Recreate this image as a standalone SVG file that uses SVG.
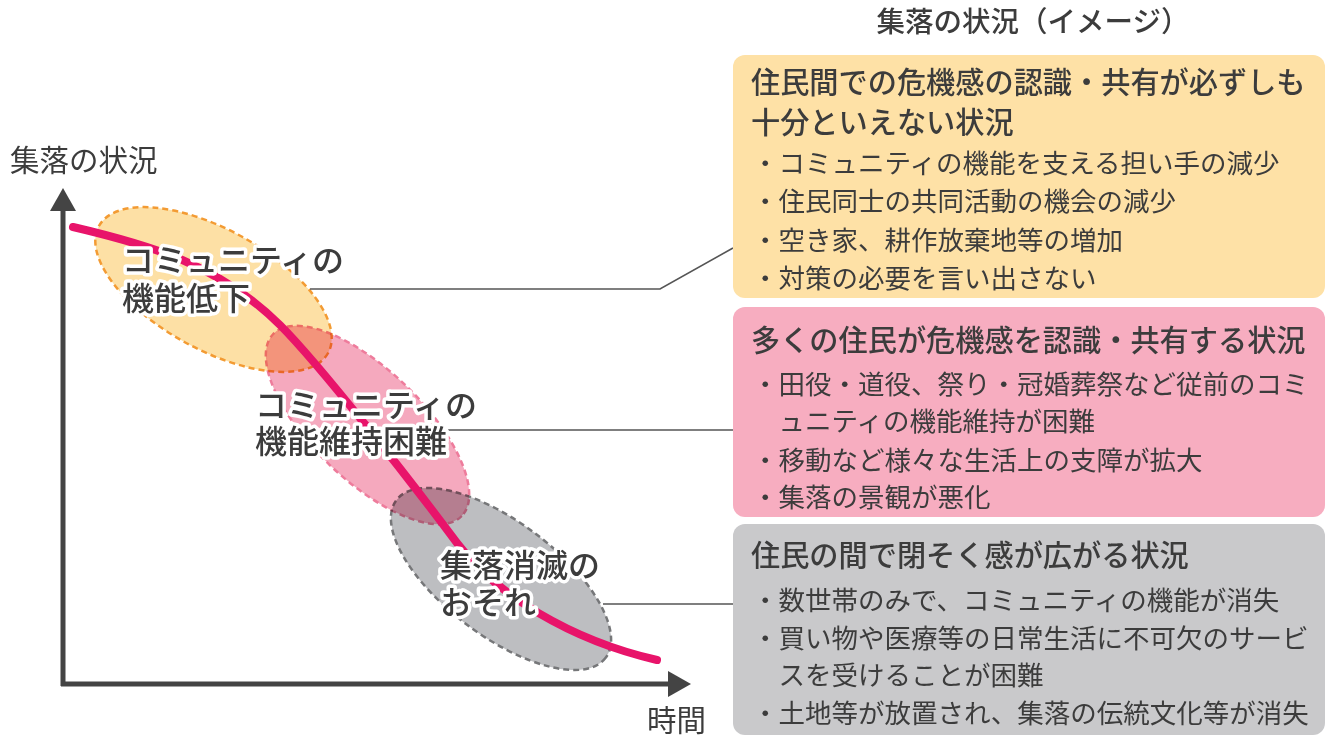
<svg xmlns="http://www.w3.org/2000/svg" width="1326" height="736" viewBox="0 0 1326 736">
<style>
text{font-family:"Noto Sans CJK JP","Noto Sans",sans-serif;fill:#3c3c3c}
.title{font-size:29.2px;font-weight:500}
.item{font-size:26.5px}
.axis{font-size:29.5px}
.lbl{font-size:32px;font-weight:500;stroke:#fff;stroke-width:7px;stroke-linejoin:round;paint-order:stroke}
.ell{stroke-width:2.5;stroke-dasharray:6 4;mix-blend-mode:multiply}
.conn{stroke:#555;stroke-width:1.6;fill:none}
</style>
<rect width="1326" height="736" fill="#fff"/>
<g id="ellipses">
<ellipse id="e1" class="ell" cx="0" cy="0" rx="131" ry="60" transform="translate(213.5,289.5) rotate(29)" fill="#FDE0A5" stroke="#F39B33"/>
<ellipse id="e2" class="ell" cx="0" cy="0" rx="131" ry="55" transform="translate(367.5,425) rotate(44)" fill="#F5A9BE" stroke="#EE7C9C"/>
<ellipse id="e3" class="ell" cx="0" cy="0" rx="131" ry="57" transform="translate(501,579) rotate(37)" fill="#BDBEC1" stroke="#767779"/>
</g>
<g id="connectors">
<polyline class="conn" points="310,289 660,289 733,248"/>
<line class="conn" x1="448" y1="430" x2="733" y2="430"/>
<line class="conn" x1="603" y1="604" x2="733" y2="604"/>
</g>
<g id="axes">
<line x1="63" y1="205" x2="63" y2="686" stroke="#444" stroke-width="5"/>
<polygon points="63,188 50,211 76,211" fill="#444"/>
<line x1="61" y1="684" x2="672" y2="684" stroke="#444" stroke-width="5"/>
<polygon points="691,684 668,671 668,697" fill="#444"/>
<text class="axis" x="10" y="171">集落の状況</text>
<text class="axis" x="647" y="731">時間</text>
</g>
<g id="curve">
<path d="M73,227 C150,245 220,265 280,325 C320,365 410,480 457,543 C495,594 570,640 657,660" fill="none" stroke="#E8146A" stroke-width="8" stroke-linecap="round"/>
</g>
<g id="label1">
<text class="lbl" x="122" y="272">コミュニティの</text>
<text class="lbl" x="122" y="310">機能低下</text>
</g>
<g id="label2">
<text class="lbl" x="255" y="417">コミュニティの</text>
<text class="lbl" x="255" y="453">機能維持困難</text>
</g>
<g id="label3">
<text class="lbl" x="440" y="577">集落消滅の</text>
<text class="lbl" x="440" y="614">おそれ</text>
</g>
<text x="1033" y="32" text-anchor="middle" style="font-size:28.5px;font-weight:500">集落の状況（イメージ）</text>
<g id="box1">
<rect x="733" y="55" width="592" height="243" rx="12" fill="#FEE1A6"/>
<text class="title" x="751" y="93">住民間での危機感の認識・共有が必ずしも</text>
<text class="title" x="751" y="133">十分といえない状況</text>
<text class="item" x="752" y="173">・コミュニティの機能を支える担い手の減少</text>
<text class="item" x="752" y="211">・住民同士の共同活動の機会の減少</text>
<text class="item" x="752" y="250">・空き家、耕作放棄地等の増加</text>
<text class="item" x="752" y="288">・対策の必要を言い出さない</text>
</g>
<g id="box2">
<rect x="733" y="307" width="592" height="210" rx="12" fill="#F7ADC0"/>
<text class="title" x="751" y="351">多くの住民が危機感を認識・共有する状況</text>
<text class="item" x="752" y="394">・田役・道役、祭り・冠婚葬祭など従前のコミ</text>
<text class="item" x="778.5" y="431">ュニティの機能維持が困難</text>
<text class="item" x="752" y="470">・移動など様々な生活上の支障が拡大</text>
<text class="item" x="752" y="507">・集落の景観が悪化</text>
</g>
<g id="box3">
<rect x="733" y="524" width="592" height="211" rx="12" fill="#C9C9CB"/>
<text class="title" x="751" y="566">住民の間で閉そく感が広がる状況</text>
<text class="item" x="752" y="610">・数世帯のみで、コミュニティの機能が消失</text>
<text class="item" x="752" y="648">・買い物や医療等の日常生活に不可欠のサービ</text>
<text class="item" x="778.5" y="685">スを受けることが困難</text>
<text class="item" x="752" y="723">・土地等が放置され、集落の伝統文化等が消失</text>
</g>
</svg>
